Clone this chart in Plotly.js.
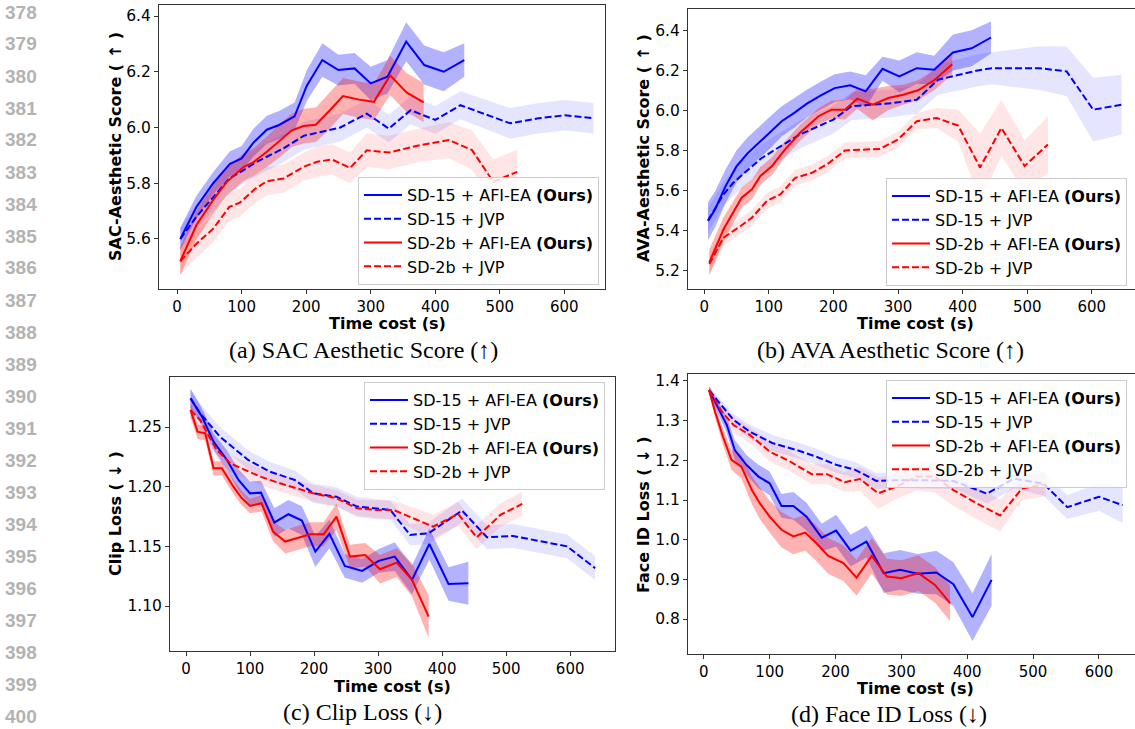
<!DOCTYPE html>
<html><head><meta charset="utf-8">
<script src="https://cdn.plot.ly/plotly-3.0.1.min.js"></script>
<style>html,body{margin:0;padding:0;background:#fff;} #chart{width:1135px;height:729px;}</style>
</head><body><div id="chart"></div>
<script>
// ---------------- DATA ----------------
const seriesNames = ['SD-15 + AFI-EA <b>(Ours)</b>', 'SD-15 + JVP', 'SD-2b + AFI-EA <b>(Ours)</b>', 'SD-2b + JVP'];
const xTicks = [0, 100, 200, 300, 400, 500, 600];
const sacTicks = [5.6, 5.8, 6.0, 6.2, 6.4];
const avaTicks = [5.2, 5.4, 5.6, 5.8, 6.0, 6.2, 6.4];
const clipTicks = [1.10, 1.15, 1.20, 1.25];
const faceTicks = [0.8, 0.9, 1.0, 1.1, 1.2, 1.3, 1.4];
const lineNumbers = [378,379,380,381,382,383,384,385,386,387,388,389,390,391,392,393,394,395,396,397,398,399,400];
const captions = ['(a) SAC Aesthetic Score (↑)', '(b) AVA Aesthetic Score (↑)', '(c) Clip Loss (↓)', '(d) Face ID Loss (↓)'];
const yTitles = ['SAC-Aesthetic Score ( ↑ )', 'AVA-Aesthetic Score ( ↑ )', 'Clip Loss ( ↓ )', 'Face ID Loss ( ↓ )'];
const xTitle = 'Time cost (s)';

// (a) SAC aesthetic score
const sacT_afi15 = [5, 30, 56, 82, 100, 118, 139, 158, 182, 201, 225, 250, 275, 300, 326, 355, 383, 413, 445];
const sacV_afi15 = [5.600, 5.715, 5.800, 5.870, 5.889, 5.945, 5.992, 6.009, 6.040, 6.150, 6.242, 6.206, 6.212, 6.158, 6.182, 6.308, 6.224, 6.200, 6.242];
const sacE_afi15 = [0.04, 0.04, 0.04, 0.045, 0.045, 0.05, 0.05, 0.05, 0.05, 0.055, 0.06, 0.055, 0.055, 0.06, 0.06, 0.07, 0.07, 0.07, 0.06];
const sacT_jvp15 = [5, 30, 56, 81, 103, 120, 139, 165, 196, 225, 253, 294, 328, 362, 400, 439, 516, 560, 601, 645];
const sacV_jvp15 = [5.600, 5.680, 5.750, 5.817, 5.847, 5.872, 5.895, 5.925, 5.970, 5.985, 6.000, 6.050, 5.996, 6.062, 6.027, 6.080, 6.015, 6.033, 6.044, 6.033];
const sacE_jvp15 = [0.04, 0.045, 0.05, 0.05, 0.05, 0.05, 0.05, 0.05, 0.05, 0.05, 0.05, 0.05, 0.05, 0.05, 0.05, 0.05, 0.055, 0.055, 0.055, 0.055];
const sacT_afi2b = [5, 30, 56, 77, 103, 118, 139, 160, 178, 196, 215, 236, 257, 282, 305, 330, 356, 382];
const sacV_afi2b = [5.520, 5.650, 5.740, 5.805, 5.858, 5.875, 5.913, 5.955, 5.990, 6.005, 6.010, 6.060, 6.113, 6.100, 6.092, 6.187, 6.125, 6.090];
const sacE_afi2b = [0.05, 0.05, 0.05, 0.05, 0.05, 0.05, 0.055, 0.06, 0.06, 0.062, 0.062, 0.065, 0.065, 0.065, 0.065, 0.07, 0.07, 0.07];
const sacT_jvp2b = [5, 30, 56, 81, 97, 121, 139, 165, 196, 217, 240, 268, 294, 328, 377, 421, 457, 490, 527];
const sacV_jvp2b = [5.520, 5.583, 5.637, 5.715, 5.730, 5.780, 5.807, 5.817, 5.859, 5.877, 5.885, 5.855, 5.918, 5.910, 5.937, 5.955, 5.919, 5.805, 5.841];
const sacE_jvp2b = [0.05, 0.05, 0.05, 0.05, 0.05, 0.05, 0.05, 0.05, 0.05, 0.055, 0.055, 0.055, 0.06, 0.06, 0.06, 0.065, 0.07, 0.08, 0.08];

// (b) AVA aesthetic score
const avaT_afi15 = [6, 17, 33, 50, 67, 84, 102, 120, 140, 159, 180, 202, 226, 250, 276, 302, 329, 356, 385, 414, 444];
const avaV_afi15 = [5.446, 5.505, 5.620, 5.720, 5.785, 5.838, 5.890, 5.947, 5.990, 6.035, 6.075, 6.113, 6.127, 6.097, 6.210, 6.172, 6.213, 6.205, 6.292, 6.313, 6.367];
const avaE_afi15 = [0.095, 0.09, 0.085, 0.08, 0.08, 0.08, 0.08, 0.075, 0.075, 0.07, 0.07, 0.07, 0.07, 0.08, 0.06, 0.08, 0.08, 0.07, 0.09, 0.09, 0.08];
const avaT_jvp15 = [6, 17, 30, 45, 68, 88, 110, 148, 200, 228, 259, 290, 329, 362, 421, 445, 519, 561, 602, 646];
const avaV_jvp15 = [5.450, 5.513, 5.580, 5.638, 5.705, 5.760, 5.805, 5.880, 5.955, 6.022, 6.030, 6.037, 6.055, 6.155, 6.200, 6.213, 6.213, 6.197, 6.005, 6.030];
const avaE_jvp15 = [0.06, 0.06, 0.06, 0.065, 0.07, 0.07, 0.07, 0.07, 0.07, 0.07, 0.07, 0.07, 0.07, 0.075, 0.08, 0.08, 0.11, 0.125, 0.16, 0.15];
const avaT_afi2b = [8, 30, 58, 74, 87, 105, 123, 148, 177, 197, 218, 237, 261, 285, 308, 331, 357, 384];
const avaV_afi2b = [5.238, 5.405, 5.563, 5.605, 5.672, 5.722, 5.797, 5.888, 5.972, 6.005, 6.005, 6.060, 6.030, 6.063, 6.080, 6.102, 6.155, 6.233];
const avaE_afi2b = [0.065, 0.06, 0.05, 0.05, 0.045, 0.045, 0.04, 0.04, 0.04, 0.045, 0.05, 0.05, 0.08, 0.06, 0.05, 0.05, 0.05, 0.05];
const avaT_jvp2b = [8, 30, 56, 74, 97, 118, 141, 167, 192, 218, 272, 300, 329, 360, 393, 427, 460, 496, 532];
const avaV_jvp2b = [5.230, 5.363, 5.420, 5.463, 5.547, 5.580, 5.663, 5.688, 5.735, 5.800, 5.808, 5.855, 5.947, 5.963, 5.925, 5.715, 5.913, 5.722, 5.830];
const avaE_jvp2b = [0.05, 0.04, 0.04, 0.04, 0.04, 0.04, 0.04, 0.04, 0.04, 0.04, 0.04, 0.04, 0.04, 0.05, 0.08, 0.17, 0.14, 0.13, 0.14];

// (c) Clip loss
const clipT_afi15 = [7, 25, 43, 64, 82, 100, 117, 138, 160, 181, 202, 224, 248, 275, 301, 326, 353, 380, 410, 441];
const clipV_afi15 = [1.2740, 1.2587, 1.2377, 1.2224, 1.2056, 1.1944, 1.1950, 1.1700, 1.1769, 1.1716, 1.1456, 1.1604, 1.1336, 1.1294, 1.1378, 1.1414, 1.1219, 1.1520, 1.1185, 1.1190];
const clipE_afi15 = [0.008, 0.007, 0.007, 0.008, 0.009, 0.010, 0.010, 0.012, 0.012, 0.012, 0.013, 0.012, 0.010, 0.010, 0.010, 0.012, 0.012, 0.013, 0.014, 0.018];
const clipT_jvp15 = [7, 22, 53, 97, 131, 170, 199, 235, 267, 319, 350, 379, 431, 470, 511, 595, 639];
const clipV_jvp15 = [1.2740, 1.2615, 1.2419, 1.2224, 1.2126, 1.2056, 1.1944, 1.1916, 1.1833, 1.1805, 1.1596, 1.1610, 1.1800, 1.1576, 1.1587, 1.1500, 1.1317];
const clipE_jvp15 = [0.008, 0.008, 0.008, 0.008, 0.008, 0.008, 0.008, 0.008, 0.008, 0.008, 0.009, 0.009, 0.01, 0.01, 0.01, 0.01, 0.01];
const clipT_afi2b = [7, 18, 30, 43, 56, 74, 87, 100, 118, 136, 155, 194, 215, 235, 256, 280, 303, 329, 353, 379];
const clipV_afi2b = [1.2642, 1.2461, 1.2447, 1.2154, 1.2154, 1.2000, 1.1905, 1.1838, 1.1861, 1.1623, 1.1540, 1.1601, 1.1601, 1.1749, 1.1414, 1.1428, 1.1308, 1.1364, 1.1219, 1.0911];
const clipE_afi2b = [0.006, 0.006, 0.006, 0.006, 0.006, 0.006, 0.006, 0.006, 0.007, 0.008, 0.01, 0.01, 0.01, 0.011, 0.01, 0.01, 0.012, 0.012, 0.014, 0.018];
const clipT_jvp2b = [7, 22, 48, 69, 116, 147, 199, 235, 267, 298, 324, 355, 386, 425, 454, 491, 525];
const clipV_jvp2b = [1.2642, 1.2559, 1.2307, 1.2196, 1.2084, 1.2028, 1.1944, 1.1903, 1.1819, 1.1805, 1.1805, 1.1735, 1.1665, 1.1771, 1.1576, 1.1763, 1.1855];
const clipE_jvp2b = [0.007, 0.007, 0.007, 0.007, 0.007, 0.007, 0.007, 0.007, 0.007, 0.008, 0.008, 0.009, 0.01, 0.01, 0.01, 0.01, 0.01];

// (d) Face ID loss
const faceT_afi15 = [8, 22, 35, 47, 65, 83, 100, 118, 136, 156, 179, 201, 223, 247, 273, 298, 325, 353, 379, 408, 437];
const faceV_afi15 = [1.377, 1.331, 1.289, 1.226, 1.188, 1.159, 1.142, 1.085, 1.085, 1.058, 1.005, 1.023, 0.9725, 0.995, 0.9156, 0.9239, 0.9139, 0.9172, 0.8879, 0.8048, 0.8987];
const faceE_afi15 = [0.01, 0.015, 0.02, 0.025, 0.025, 0.03, 0.03, 0.03, 0.035, 0.035, 0.035, 0.04, 0.04, 0.04, 0.05, 0.05, 0.05, 0.055, 0.055, 0.06, 0.065];
const faceT_jvp15 = [8, 24, 45, 70, 105, 141, 171, 202, 230, 262, 293, 330, 379, 430, 471, 516, 552, 600, 636];
const faceV_jvp15 = [1.377, 1.344, 1.302, 1.272, 1.243, 1.226, 1.209, 1.188, 1.176, 1.148, 1.150, 1.150, 1.148, 1.116, 1.154, 1.141, 1.082, 1.108, 1.087];
const faceE_jvp15 = [0.01, 0.012, 0.015, 0.018, 0.02, 0.02, 0.02, 0.02, 0.02, 0.02, 0.02, 0.02, 0.02, 0.025, 0.025, 0.03, 0.03, 0.035, 0.045];
const faceT_afi2b = [8, 17, 29, 42, 57, 73, 85, 100, 118, 136, 154, 171, 189, 212, 232, 255, 278, 300, 326, 351, 374];
const faceV_afi2b = [1.377, 1.323, 1.260, 1.201, 1.184, 1.125, 1.092, 1.058, 1.025, 1.008, 1.018, 0.991, 0.959, 0.941, 0.9045, 0.959, 0.907, 0.903, 0.9156, 0.886, 0.840];
const faceE_afi2b = [0.01, 0.015, 0.02, 0.025, 0.03, 0.035, 0.04, 0.04, 0.045, 0.045, 0.045, 0.045, 0.045, 0.045, 0.045, 0.045, 0.045, 0.045, 0.045, 0.045, 0.045];
const faceT_jvp2b = [8, 27, 45, 70, 100, 131, 164, 187, 214, 237, 265, 293, 323, 351, 379, 414, 450, 483, 519];
const faceV_jvp2b = [1.377, 1.323, 1.289, 1.264, 1.222, 1.197, 1.165, 1.165, 1.145, 1.153, 1.117, 1.134, 1.159, 1.159, 1.125, 1.092, 1.061, 1.129, 1.140];
const faceE_jvp2b = [0.01, 0.015, 0.02, 0.02, 0.025, 0.025, 0.025, 0.025, 0.025, 0.03, 0.04, 0.03, 0.035, 0.04, 0.04, 0.04, 0.04, 0.03, 0.03];

// ---------------- LAYOUT / STYLE ----------------
const W = 1135, H = 729;
const px = x => x / W;
const py = y => 1 - y / H;
const SANS = 'DejaVu Sans';
const SERIF = 'Liberation Serif';
const BLUE = '#0000ff', RED = '#ff0000';
const DASH = '7px,3px';

const panels = [
  {xa: 'x',  ya: 'y',  l: 159, r: 605,    t: 5,   b: 289, xr: [-28, 663], yr: [5.4205, 6.4395], yt: sacTicks,  yf: '.1f', leg: 'legend',  lx: 358, ly: 177, cap: [363, 350], xt: [387, 323], ytp: [116, 147],
   data: [[sacT_afi15, sacV_afi15, sacE_afi15], [sacT_jvp15, sacV_jvp15, sacE_jvp15], [sacT_afi2b, sacV_afi2b, sacE_afi2b], [sacT_jvp2b, sacV_jvp2b, sacE_jvp2b]]},
  {xa: 'x2', ya: 'y2', l: 688, r: 1134.5, t: 9,   b: 289, xr: [-25, 666], yr: [5.105, 6.51],    yt: avaTicks,  yf: '.1f', leg: 'legend2', lx: 886, ly: 178, cap: [890, 350], xt: [915, 323], ytp: [643, 148],
   data: [[avaT_afi15, avaV_afi15, avaE_afi15], [avaT_jvp15, avaV_jvp15, avaE_jvp15], [avaT_afi2b, avaV_afi2b, avaE_afi2b], [avaT_jvp2b, avaV_jvp2b, avaE_jvp2b]]},
  {xa: 'x3', ya: 'y3', l: 170, r: 615,    t: 377, b: 651, xr: [-25, 670], yr: [1.0623, 1.2919], yt: clipTicks, yf: '.2f', leg: 'legend3', lx: 364, ly: 382, cap: [362, 712], xt: [392, 686], ytp: [115, 514],
   data: [[clipT_afi15, clipV_afi15, clipE_afi15], [clipT_jvp15, clipV_jvp15, clipE_jvp15], [clipT_afi2b, clipV_afi2b, clipE_afi2b], [clipT_jvp2b, clipV_jvp2b, clipE_jvp2b]]},
  {xa: 'x4', ya: 'y4', l: 688, r: 1134.5, t: 374, b: 654, xr: [-24, 654], yr: [0.7118, 1.4176], yt: faceTicks, yf: '.1f', leg: 'legend4', lx: 886, ly: 380, cap: [889, 714], xt: [915, 688], ytp: [643, 515],
   data: [[faceT_afi15, faceV_afi15, faceE_afi15], [faceT_jvp15, faceV_jvp15, faceE_jvp15], [faceT_afi2b, faceV_afi2b, faceE_afi2b], [faceT_jvp2b, faceV_jvp2b, faceE_jvp2b]]}
];
const styles = [
  {color: BLUE, fill: 'rgba(0,0,255,0.3)', dash: 'solid'},
  {color: BLUE, fill: 'rgba(0,0,255,0.1)', dash: DASH},
  {color: RED,  fill: 'rgba(255,0,0,0.3)', dash: 'solid'},
  {color: RED,  fill: 'rgba(255,0,0,0.1)', dash: DASH}
];

const bands = [], lines = [];
const layout = {
  width: W, height: H,
  margin: {l: 0, r: 0, t: 0, b: 0, autoexpand: false},
  paper_bgcolor: '#ffffff', plot_bgcolor: '#ffffff',
  showlegend: true,
  annotations: [],
  font: {family: SANS, color: '#000'}
};

panels.forEach((p, pi) => {
  p.data.forEach((d, si) => {
    const [t, v, e] = d;
    const st = styles[si];
    const up = v.map((y, i) => y + e[i]);
    const lo = v.map((y, i) => y - e[i]);
    bands.push({
      type: 'scatter', mode: 'lines', xaxis: p.xa, yaxis: p.ya,
      x: t.concat(t.slice().reverse()), y: up.concat(lo.slice().reverse()),
      fill: 'toself', fillcolor: st.fill, line: {width: 0, color: st.fill},
      hoverinfo: 'skip', showlegend: false
    });
    lines.push({
      type: 'scatter', mode: 'lines', xaxis: p.xa, yaxis: p.ya, x: t, y: v,
      name: seriesNames[si], legend: p.leg,
      line: {color: st.color, width: 2, dash: st.dash}
    });
  });
  const axBase = {
    showline: true, mirror: true, linecolor: '#333', linewidth: 1,
    ticks: 'outside', ticklen: 4, tickwidth: 1, tickcolor: '#333',
    showgrid: false, zeroline: false, fixedrange: true,
    tickfont: {family: SANS, size: 15, color: '#000'}
  };
  const xs = pi === 0 ? '' : String(pi + 1);
  layout['xaxis' + xs] = Object.assign({}, axBase, {
    domain: [px(p.l), px(p.r)], range: p.xr, anchor: p.ya, tickvals: xTicks, tickformat: 'd'
  });
  layout['yaxis' + xs] = Object.assign({}, axBase, {
    domain: [py(p.b), py(p.t)], range: p.yr, anchor: p.xa, tickvals: p.yt, tickformat: p.yf,
    tickfont: {family: SANS, size: 15.5, color: '#000'}
  });
  layout[p.leg] = {
    x: px(p.lx), y: py(p.ly), xanchor: 'left', yanchor: 'top', xref: 'paper', yref: 'paper',
    bgcolor: 'rgba(255,255,255,0.8)', bordercolor: '#cccccc', borderwidth: 1,
    font: {family: SANS, size: 16, color: '#000'}, itemwidth: 38, traceorder: 'normal'
  };
  layout.annotations.push({
    xref: 'paper', yref: 'paper', x: px(p.cap[0]), y: py(p.cap[1]), xanchor: 'center', yanchor: 'middle',
    text: captions[pi], showarrow: false, font: {family: SERIF, size: 24, color: '#000'}
  });
  layout.annotations.push({
    xref: 'paper', yref: 'paper', x: px(p.xt[0]), y: py(p.xt[1]), xanchor: 'center', yanchor: 'middle',
    text: '<b>' + xTitle + '</b>', showarrow: false, font: {family: SANS, size: 16, color: '#000'}
  });
  layout.annotations.push({
    xref: 'paper', yref: 'paper', x: px(p.ytp[0]), y: py(p.ytp[1]), xanchor: 'center', yanchor: 'middle',
    text: '<b>' + yTitles[pi] + '</b>', textangle: -90, showarrow: false, font: {family: SANS, size: 16, color: '#000'}
  });
});

lineNumbers.forEach((n, i) => {
  layout.annotations.push({
    xref: 'paper', yref: 'paper', x: px(39), y: py(12 + i * 32), xanchor: 'right', yanchor: 'middle',
    text: '<b>' + n + '</b>', showarrow: false, font: {family: 'Liberation Sans', size: 19, color: '#b3b3b3'}
  });
});

Plotly.newPlot('chart', bands.concat(lines), layout, {displayModeBar: false, staticPlot: true});
</script></body></html>
